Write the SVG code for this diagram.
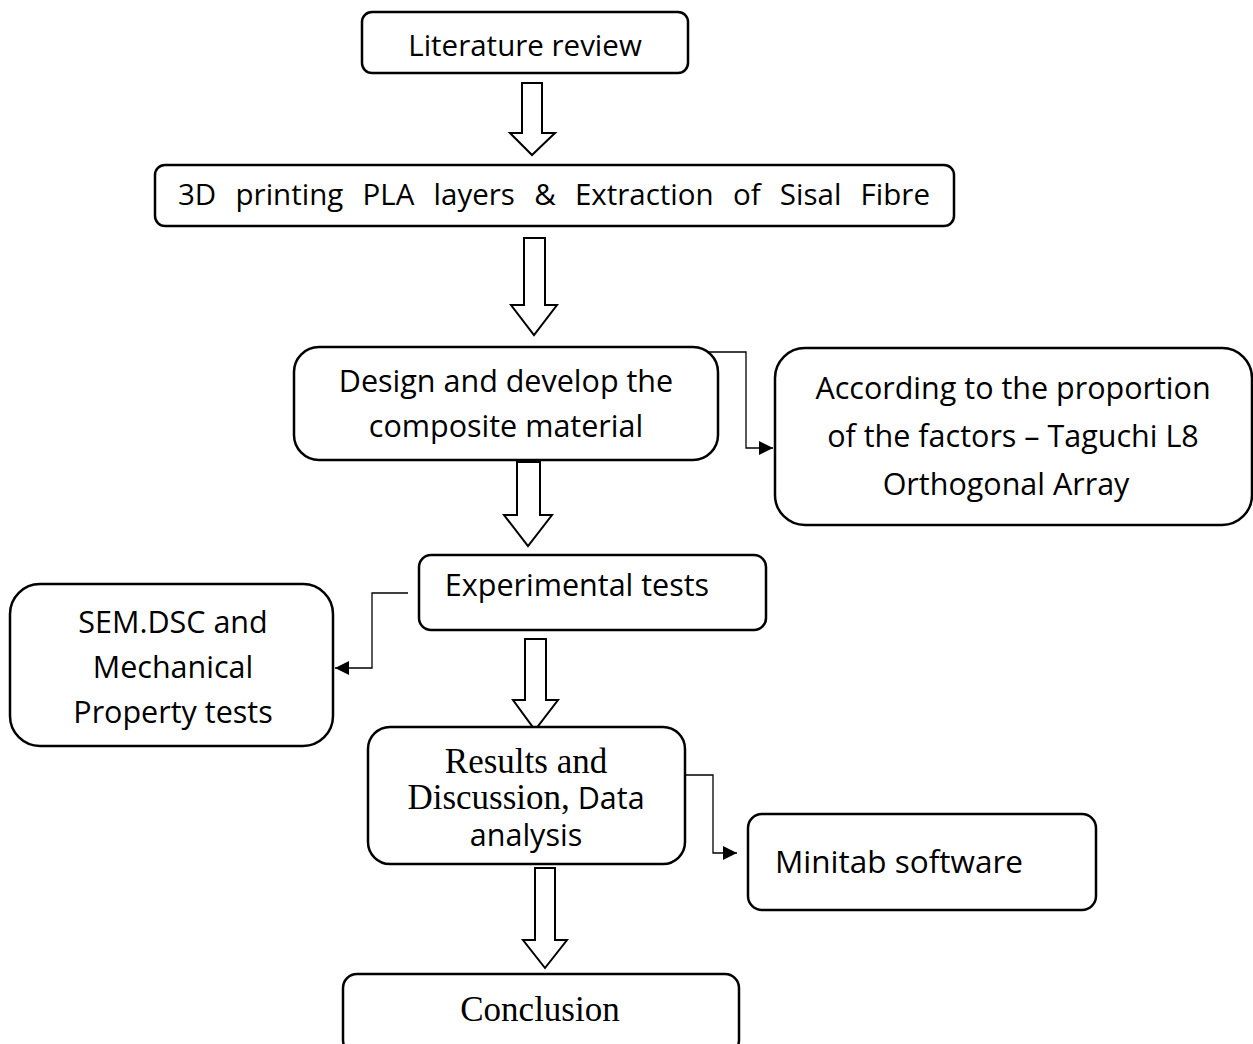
<svg xmlns="http://www.w3.org/2000/svg" width="1253" height="1044" viewBox="0 0 1253 1044">
<defs>
<style>
.box{fill:#fff;stroke:#000;stroke-width:2.5}
.t{font-family:"Open Sans","Liberation Sans",sans-serif;font-size:30.5px;fill:#000;text-anchor:middle}
.s{font-family:"Liberation Serif","Times New Roman",serif;font-size:35px;fill:#000}
.ba{fill:#fff;stroke:#000;stroke-width:2}
.ln{fill:none;stroke:#000;stroke-width:1.3}
</style>
<marker id="ah" viewBox="0 0 10 10" refX="10" refY="5" markerWidth="14" markerHeight="14" markerUnits="userSpaceOnUse" orient="auto">
<path d="M0,0 L10,5 L0,10 Z" fill="#000"/>
</marker>
</defs>
<rect width="1253" height="1044" fill="#fff"/>
<g id="connectors">
<path class="ba" d="M522,83 H542 V133 H555 L532,155 L510,133 H522 Z"/>
<path class="ba" d="M524,238 H545 V305 H557 L534,335 L511,305 H524 Z"/>
<path class="ba" d="M517,462 H540 V515 H552 L528,546 L504,515 H517 Z"/>
<path class="ba" d="M525,639 H546 V700 H558 L535,730 L513,700 H525 Z"/>
<path class="ba" d="M535,868 H555 V940 H567 L545,968 L523,940 H535 Z"/>
<path class="ln" d="M708,352 H746 V448 H773" marker-end="url(#ah)"/>
<path class="ln" d="M408,593 H372 V668 H335" marker-end="url(#ah)"/>
<path class="ln" d="M666,775 H713 V853 H737" marker-end="url(#ah)"/>
</g>
<g id="n1"><rect class="box" x="362" y="12" width="326" height="61" rx="10"/><text class="t" x="525" y="56" style="font-size:29.5px">Literature review</text></g>
<g id="n2"><rect class="box" x="155" y="165" width="799" height="61" rx="10"/><text class="t" x="178" y="205" style="text-anchor:start;font-size:29.5px;word-spacing:11.6px">3D printing PLA layers &amp; Extraction of Sisal Fibre</text></g>
<g id="n3"><rect class="box" x="294" y="347" width="424" height="113" rx="25"/><text class="t" x="506" y="392">Design and develop the</text><text class="t" x="506" y="437">composite material</text></g>
<g id="n4"><rect class="box" x="775" y="348" width="477" height="177" rx="30"/><text class="t" x="1013" y="399">According to the proportion</text><text class="t" x="1013" y="447">of the factors – Taguchi L8</text><text class="t" x="1006" y="495">Orthogonal Array</text></g>
<g id="n5"><rect class="box" x="419" y="555" width="347" height="75" rx="12"/><text class="t" x="577" y="596">Experimental tests</text></g>
<g id="n6"><rect class="box" x="10" y="584" width="323" height="162" rx="30"/><text class="t" x="173" y="633">SEM.DSC and</text><text class="t" x="173" y="678">Mechanical</text><text class="t" x="173" y="723">Property tests</text></g>
<g id="n7"><rect class="box" x="368" y="727" width="317" height="137" rx="22"/><text class="s" x="526" y="773" text-anchor="middle">Results and</text><text x="526" y="809" text-anchor="middle"><tspan class="s">Discussion,</tspan><tspan class="t" style="text-anchor:start"> Data</tspan></text><text class="t" x="526" y="846">analysis</text></g>
<g id="n8"><rect class="box" x="748" y="814" width="348" height="96" rx="14"/><text class="t" x="775" y="873" style="text-anchor:start;font-size:31.5px">Minitab software</text></g>
<g id="n9"><rect class="box" x="343" y="974" width="396" height="80" rx="14"/><text class="s" x="540" y="1021" text-anchor="middle">Conclusion</text></g>
</svg>
